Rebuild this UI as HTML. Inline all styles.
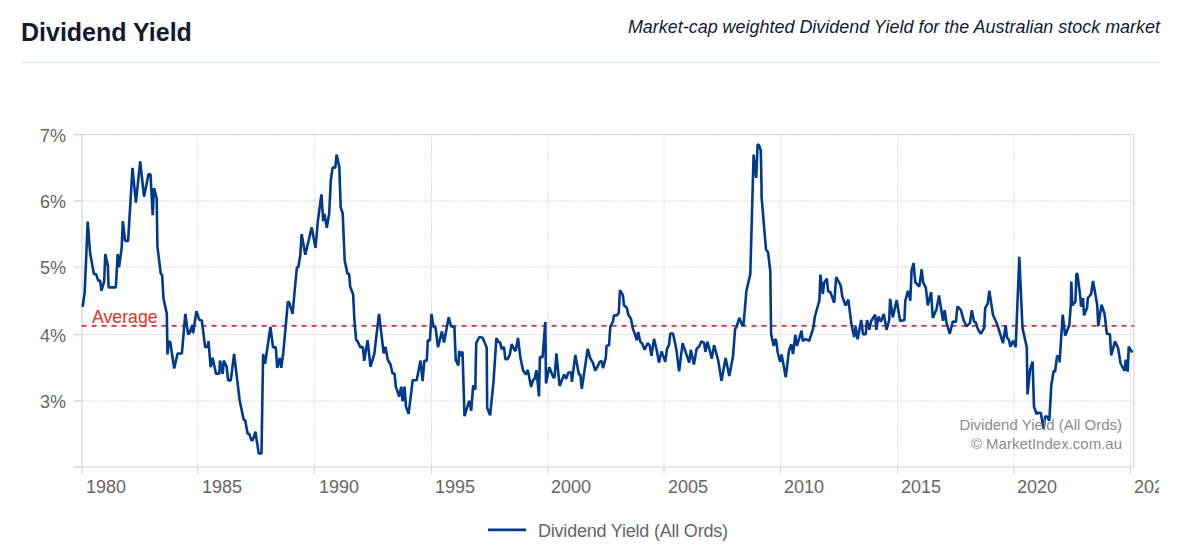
<!DOCTYPE html>
<html><head><meta charset="utf-8">
<style>
html,body{margin:0;padding:0;background:#fff;width:1189px;height:551px;overflow:hidden;font-family:"Liberation Sans",sans-serif;}
#wrap{position:absolute;left:0;top:0;width:1189px;height:551px;}
#clip{position:absolute;left:0;top:0;width:1159px;height:551px;overflow:hidden;}
.title{position:absolute;left:21px;top:18px;font-size:25px;font-weight:bold;color:#141a2e;white-space:nowrap;}
.sub{position:absolute;right:29px;top:17px;font-size:17.95px;font-style:italic;color:#141a2e;white-space:nowrap;}
.hr{position:absolute;left:21px;top:62px;width:1139px;height:1px;background:#d7e3ee;}
svg{position:absolute;left:0;top:0;}
svg text{font-family:"Liberation Sans",sans-serif;}
</style></head><body>
<div id="wrap">
<div class="title">Dividend Yield</div>
<div class="sub">Market-cap weighted Dividend Yield for the Australian stock market</div>
<div class="hr"></div>
<div id="clip"><svg width="1189" height="551" viewBox="0 0 1189 551">
<path d="M82 134.6H1134" stroke="#e4e4e4" stroke-width="1"/>
<path d="M82 134.6H1134" stroke="#c8c8c8" stroke-width="1" stroke-dasharray="2,3" fill="none"/>
<g id="grid" stroke="#cfcfcf" stroke-width="1" stroke-dasharray="1.25,1.25" fill="none">
<path d="M82 134.6H1134M82 200.9H1134M82 267.0H1134M82 334.6H1134M82 400.9H1134"/>
<path d="M197.8 134V467M314.2 134V467M431.5 134V467M547.9 134V467M664.0 134V467M780.3 134V467M897.7 134V467M1013.9 134V467M1130.4 134V467"/>
</g>
<g stroke="#d2d2d2" stroke-width="1.1" fill="none">
<path d="M82 134V467"/>
<path d="M74 134.6H82M74 200.9H82M74 267.0H82M74 334.6H82M74 400.9H82M74 467.0H82"/>
<path d="M74 467H1134.5"/>
<path d="M1133.9 134V467"/>
<path d="M82 467V474M197.8 467V474M314.2 467V474M431.5 467V474M547.9 467V474M664.0 467V474M780.3 467V474M897.7 467V474M1013.9 467V474M1130.4 467V474"/>
</g>
<g font-size="18" fill="#666666" text-anchor="end">
<text x="66" y="142">7%</text>
<text x="66" y="208">6%</text>
<text x="66" y="274">5%</text>
<text x="66" y="342">4%</text>
<text x="66" y="408">3%</text>
</g>
<g font-size="18" fill="#666666">
<text x="86" y="493">1980</text>
<text x="202" y="493">1985</text>
<text x="319" y="493">1990</text>
<text x="435" y="493">1995</text>
<text x="551" y="493">2000</text>
<text x="668" y="493">2005</text>
<text x="784" y="493">2010</text>
<text x="901" y="493">2015</text>
<text x="1017" y="493">2020</text>
<text x="1134" y="493">2025</text>
</g>
<path d="M81.6 325.9H1134" stroke="#d63030" stroke-width="1.7" stroke-dasharray="5,5" fill="none"/>
<text x="92" y="322.7" font-size="17.7" fill="#de3526">Average</text>
<path id="line" d="M82.7 306.9 L84.7 292.1 L87.7 221.6 L90.1 253.0 L93.9 273.9 L96.2 274.3 L98.2 280.6 L100.2 280.6 L101.4 290.9 L104.2 281.3 L105.3 254.1 L107.9 265.8 L108.6 287.4 L115.8 287.4 L117.7 254.1 L119 267.4 L121.7 247.6 L122.8 221.1 L125.1 240.9 L128.1 240.9 L132.5 167.9 L135.9 202.7 L140.2 161.3 L144 196.7 L148.5 174.2 L150.5 174.2 L152.7 215.2 L154 188.1 L156.7 198.5 L157.4 246.3 L160.8 273.9 L162.1 274.6 L163.5 298.8 L166.8 313.6 L167.5 354.4 L168.8 341.3 L170.2 342.0 L174.2 368.5 L177.6 353.5 L181.9 353.5 L185.3 313.8 L188.1 334.5 L189.7 332.5 L192.4 324.9 L193.1 333.4 L196.4 311.1 L199.1 319.7 L201.8 320.4 L205.2 347.3 L207.6 346.7 L208.5 341.1 L210.6 367.1 L212.6 357.9 L216 373.6 L219.3 373.6 L220 360.6 L222.7 373.9 L223.8 360.6 L226.7 366.9 L228.1 380.4 L230.8 380.4 L234.1 353.9 L239.6 400.0 L243.7 419.8 L245.2 420.3 L247.6 433.5 L249.3 434.0 L251.3 440.1 L252.8 440.1 L255.4 431.6 L258.7 453.4 L261.5 453.4 L263.1 353.9 L265.1 363.8 L270.4 327.0 L273.1 347.4 L275.8 347.4 L277.2 367.8 L279.9 357.9 L281.2 367.8 L283.2 353.5 L285.9 323.8 L287.9 301.6 L289.2 302.3 L292.6 314.0 L294.6 291.5 L296.9 267.3 L298.3 267.3 L300.3 255.2 L301.6 234.1 L305.3 254.7 L311.7 227.4 L315.5 248.0 L317.8 221.5 L321.4 194.3 L323.2 221.1 L324.5 213.9 L326.8 227.8 L329.2 213.5 L330.8 180.4 L332.6 167.6 L335.3 167.6 L336.6 154.6 L339.3 166.9 L340.7 207.3 L342.7 213.5 L344.7 260.6 L347.4 273.4 L349.1 274.0 L350.2 286.8 L353.1 294.2 L354.5 321.1 L356.2 340.4 L357.5 341.0 L360.2 347.1 L362.9 347.1 L364.2 360.8 L367.6 340.1 L370.5 366.9 L374.3 353.8 L379 313.9 L383.7 353.4 L385.5 346.9 L387.8 359.9 L390.5 364.5 L392.5 373.5 L394.5 373.5 L395.9 386.9 L399.2 396.6 L401.2 386.7 L402.6 401.3 L404.6 386.7 L405.9 406.4 L408.6 413.9 L412.7 380.2 L416.7 380.2 L420.5 360.6 L422.6 381.1 L424.3 360.8 L426.8 360.6 L427.8 340.4 L429.9 340.4 L431.5 313.9 L433.5 326.9 L435.6 327.6 L438 347.3 L441.9 331.4 L444 342.6 L448.7 317.3 L451 326.2 L454.4 326.9 L455.7 359.9 L458.4 365.5 L459.1 350.9 L460.5 356.1 L462.5 351.6 L464.5 416.2 L469.2 400.8 L471.2 410.7 L473.2 385.3 L475.3 389.8 L476.2 343.1 L479.3 337.0 L482.7 337.7 L486.7 347.8 L487.2 408.0 L490.1 415.4 L493.4 382.9 L496.4 338.1 L498.8 342.3 L500.2 342.3 L501.5 349.0 L504 347.0 L505.3 359.1 L507.6 359.1 L509.9 354.4 L511.6 344.1 L514.7 350.4 L515.7 350.4 L518 338.0 L520.4 357.8 L523.1 370.5 L525.8 374.4 L527.8 369.9 L531.1 386.9 L533.2 379.5 L534.5 379.5 L536.5 370.2 L539 396.4 L539.9 357.1 L542.6 357.1 L545.3 321.9 L546 383.4 L549.3 367.3 L553.4 377.5 L554.6 377.5 L556.4 353.5 L559.6 385.9 L564.1 374.6 L566.1 378.9 L568.2 372.8 L571.2 372.4 L571.9 381.9 L575.3 354.9 L578.9 374.5 L580.3 374.5 L581.8 388.9 L587.7 348.8 L590.1 357.8 L593.1 363.2 L595.3 370.7 L598.2 365.2 L599.8 361.8 L601.8 361.1 L603 368.1 L605.8 357.8 L606.6 345.7 L609 345.3 L610.3 326.8 L613 321.4 L613.9 315.4 L617 315.4 L618.8 312.7 L619.9 290.3 L622.9 295.2 L624 305.3 L626.9 308.0 L628.3 314.7 L631 318.7 L632.7 328.1 L634.7 333.5 L636.8 340.4 L638.2 331.9 L640.2 341.5 L642.2 343.6 L644.6 349.7 L647.6 343.3 L649.6 344.9 L651.5 355.9 L654 338.9 L656.9 351.0 L658.9 362.6 L661.6 351.4 L665.3 361.9 L667 348.9 L669 344.9 L670.3 333.5 L673 333.5 L676.4 349.6 L679.1 371.4 L682.6 343.1 L689.2 362.6 L690.8 349.8 L693.9 364.6 L696.6 348.9 L699.3 346.2 L701.4 341.3 L704.1 342.9 L705.4 351.9 L707.5 341.7 L711.8 358.6 L714.1 345.1 L718.2 360.4 L721.5 380.8 L725.6 358.1 L729.3 376.1 L733 356.3 L735.1 329.0 L736.6 326.8 L739.3 317.8 L742 324.8 L743.4 326.1 L746.4 291.0 L750.3 274.2 L753.6 154.6 L756.2 177.9 L757.6 144.5 L758.8 145.0 L760.8 150.5 L761.5 185.0 L761.6 197.1 L766 249.6 L768 252.3 L768.3 254.0 L770.3 271.5 L771.1 334.0 L773.7 345.9 L774.9 339.6 L776.1 340.0 L777.7 352.5 L780.1 361.7 L781.6 354.6 L785.8 377.2 L788.9 351.1 L791.2 344.2 L793 354.1 L795.3 334.8 L797 346.0 L801.5 330.7 L802.8 341.0 L805.8 339.0 L809.1 341.0 L813.2 328.3 L815 316.0 L819.4 300.5 L820.4 274.6 L822.8 294.0 L824.1 283.0 L826.8 278.6 L828.2 291.7 L830.2 291.7 L834.2 302.7 L836.2 277.1 L840.7 285.7 L842.3 296.4 L845.6 305.5 L848.3 299.6 L851.5 324.9 L854.2 337.2 L855.6 326.7 L857.6 339.3 L861.2 320.0 L863 334.3 L865.7 334.3 L867 320.0 L869.3 329.8 L871 321.5 L875.1 314.6 L876.4 329.8 L878.4 316.6 L880.9 321.8 L883.8 313.9 L886.5 329.8 L889.2 320.2 L890.1 298.9 L892.8 317.4 L896.7 300.1 L900.1 321.0 L904.4 320.1 L905.3 300.5 L908 290.8 L910.3 300.7 L911.6 270.2 L913.6 263.1 L915.3 282.3 L919.3 286.6 L921.7 269.3 L923.1 282.3 L925.8 287.7 L927.8 305.4 L931.1 292.2 L932.8 317.9 L936.5 309.2 L939 295.5 L943 320.9 L944.6 310.3 L946.5 322.8 L949.8 333.8 L952.8 321.4 L955.9 322.1 L957.4 306.3 L960.8 309.9 L963.9 320.8 L966.6 326.4 L970 322.8 L971.8 310.3 L974 321.4 L976 322.8 L977.8 328.8 L980.8 333.8 L984.1 328.2 L985.2 307.9 L987.7 303.8 L989.3 290.8 L991 301.8 L993 315.0 L996.9 323.5 L999.6 332.2 L1003 343.2 L1005.7 325.3 L1007 337.6 L1009 340.3 L1010.4 346.6 L1013.1 340.7 L1015.7 347.2 L1019.3 256.9 L1022.5 328.0 L1026.8 347.5 L1027.5 394.4 L1030 370.0 L1032.6 361.6 L1034 406.7 L1036.6 414.0 L1038.6 412.7 L1040.7 412.7 L1043.7 428.9 L1045.2 416.3 L1047.3 416.8 L1049.3 420.7 L1051.3 385.4 L1053.7 370.5 L1055 372.0 L1057.1 356.0 L1059.3 356.0 L1059.6 362.4 L1062.7 314.6 L1065.2 335.9 L1069.3 325.0 L1070.8 305.1 L1071.3 281.5 L1072.3 305.4 L1075.4 301.7 L1076.4 273.7 L1077.4 273.7 L1080.5 298.6 L1081 306.6 L1083 298.2 L1084 315.3 L1087.1 307.8 L1087.9 297.6 L1089.6 296.1 L1091.1 294.0 L1093 280.9 L1097.2 304.7 L1098.3 326.3 L1101.5 304.6 L1104.6 314.0 L1106.9 334.0 L1109.9 334.0 L1111.2 355.4 L1115 341.3 L1118.1 348.0 L1120.6 363.5 L1124.7 371.0 L1125.7 359.6 L1127.7 371.6 L1128.7 346.6 L1132.3 352.5" stroke="#003a8c" stroke-width="2.6" fill="none" stroke-linejoin="bevel"/>
<g font-size="15" fill="#8c8c8c" text-anchor="end">
<text x="1122" y="430">Dividend Yield (All Ords)</text>
<text x="1122" y="449">© MarketIndex.com.au</text>
</g>
<path d="M488 529.8H526" stroke="#003a8c" stroke-width="2.7"/>
<text x="538" y="537" font-size="18" fill="#666666" letter-spacing="-0.21">Dividend Yield (All Ords)</text>
</svg></div>
</div>
</body></html>
